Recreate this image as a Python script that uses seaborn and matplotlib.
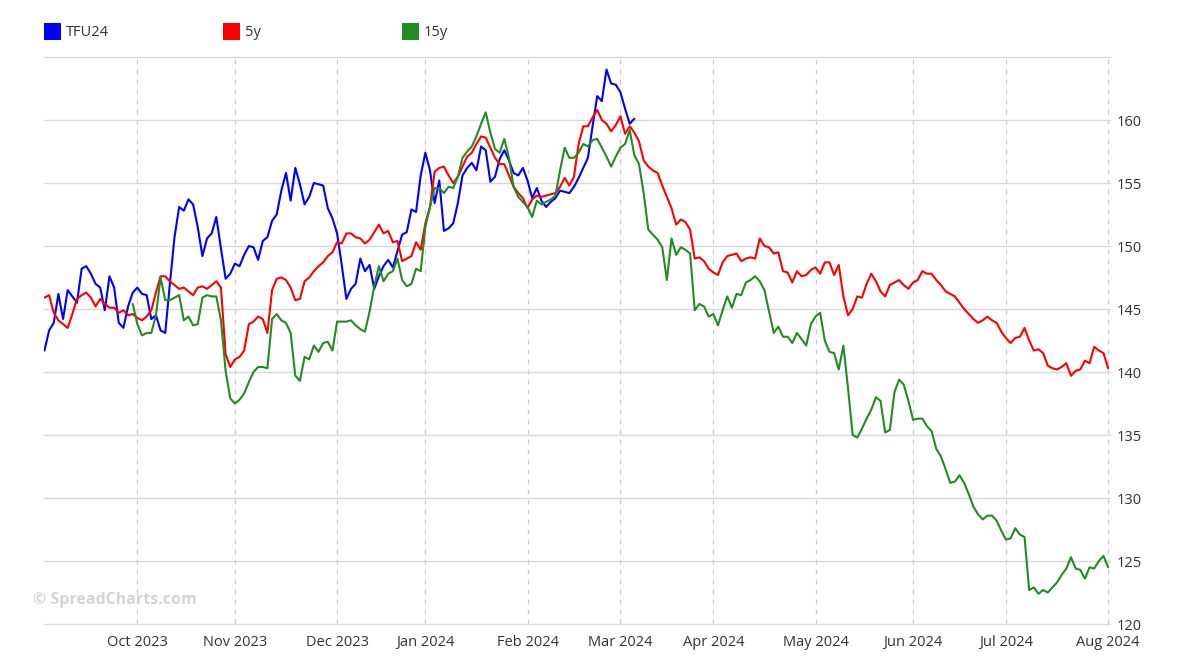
import numpy as np
import pandas as pd
import seaborn as sns
import matplotlib
matplotlib.use('Agg')
import matplotlib.pyplot as plt
from matplotlib.patches import Rectangle

# trading calendar of the chart (weekdays with no quote removed)
start_date, end_date = '2023-09-01', '2024-08-01'
missing_days = ['2023-09-04', '2023-10-09', '2023-12-25', '2023-12-26', '2024-01-01',
                '2024-02-19', '2024-03-29', '2024-05-27', '2024-05-28', '2024-07-04']

series_names = ['TFU24', '5y', '15y']
series_colors = ['#0000ff', '#ff0000', '#228b22']

# TFU24, from 2023-09-01 (128 sessions)
tfu24 = [141.7, 143.3, 143.9, 146.2, 144.2, 146.5, 146.0, 145.5, 148.2, 148.4,
         147.8, 147.0, 146.7, 144.9, 147.6, 146.7, 143.9, 143.5, 145.2, 146.3,
         146.7, 146.2, 146.1, 144.2, 144.5, 143.3, 143.1, 147.0, 150.7, 153.1,
         152.8, 153.7, 153.3, 151.5, 149.2, 150.6, 151.0, 152.3, 149.8, 147.4,
         147.8, 148.6, 148.4, 149.3, 150.0, 149.9, 148.9, 150.4, 150.7, 152.0,
         152.5, 154.4, 155.8, 153.6, 156.2, 154.9, 153.3, 153.9, 155.0, 154.9,
         154.8, 153.0, 152.2, 151.0, 148.5, 145.8, 146.6, 147.0, 149.0, 148.0,
         148.5, 146.6, 147.6, 148.4, 148.9, 148.3, 149.6, 150.9, 151.1, 152.9,
         152.7, 155.6, 157.4, 156.0, 153.4, 155.2, 151.2, 151.4, 151.8, 153.4,
         155.6, 156.2, 156.6, 156.0, 157.9, 157.6, 155.1, 155.5, 156.9, 157.6,
         156.8, 155.8, 155.6, 156.2, 155.2, 153.8, 154.6, 153.6, 153.1, 153.5,
         153.8, 154.4, 154.3, 154.2, 154.7, 155.4, 156.2, 157.0, 159.5, 161.9,
         161.5, 164.0, 162.9, 162.8, 162.2, 160.9, 159.7, 160.1]
tfu24_start = '2023-09-01'

# 5y, from 2023-09-01 to 2024-08-01
y5 = [145.9, 146.1, 144.7, 144.1, 143.8, 143.5, 144.6, 145.8, 146.1, 146.3,
      145.9, 145.2, 145.8, 145.4, 145.1, 145.1, 144.7, 144.9, 144.5, 144.6,
      144.3, 144.1, 144.4, 144.9, 146.3, 147.6, 147.6, 147.2, 146.9, 146.6,
      146.7, 146.4, 146.1, 146.7, 146.8, 146.6, 146.9, 147.2, 146.7, 141.4,
      140.4, 141.0, 141.2, 141.7, 143.8, 144.0, 144.4, 144.2, 143.1, 146.5,
      147.4, 147.5, 147.3, 146.7, 145.7, 145.8, 147.2, 147.5, 148.0, 148.4,
      148.7, 149.2, 149.5, 150.3, 150.2, 151.0, 151.0, 150.7, 150.6, 150.2,
      150.5, 151.1, 151.7, 151.0, 151.2, 150.3, 150.4, 148.8, 149.0, 149.2,
      150.3, 149.7, 151.8, 153.1, 155.9, 156.2, 156.3, 155.6, 155.0, 155.5,
      156.3, 157.1, 157.4, 158.1, 158.7, 158.6, 157.8, 157.0, 156.5, 156.5,
      155.6, 154.7, 154.2, 153.8, 153.0, 153.7, 154.0, 153.9, 154.0, 154.1,
      154.2, 154.7, 155.4, 154.8, 155.5, 158.1, 159.5, 159.5, 160.2, 160.8,
      160.0, 159.7, 159.1, 159.6, 160.3, 158.9, 159.5, 159.0, 158.3, 156.8,
      156.3, 156.0, 155.8, 154.8, 153.9, 153.0, 151.7, 152.1, 151.9, 151.3,
      149.0, 149.1, 148.8, 148.2, 147.9, 147.7, 148.7, 149.2, 149.3, 149.4,
      148.8, 149.0, 149.1, 149.0, 150.6, 150.0, 149.9, 149.4, 149.5, 148.0,
      147.9, 147.1, 148.0, 147.6, 147.7, 148.1, 148.3, 147.8, 148.7, 148.7,
      147.7, 148.5, 146.0, 144.5, 145.0, 146.0, 145.9, 147.0, 147.8, 147.2,
      146.4, 146.0, 146.9, 147.1, 147.3, 146.9, 146.6, 147.1, 147.3, 148.0,
      147.8, 147.8, 147.3, 146.9, 146.4, 146.2, 146.0, 145.5, 145.0, 144.6,
      144.2, 143.9, 144.1, 144.4, 144.1, 143.9, 143.2, 142.7, 142.3, 142.7,
      142.8, 143.5, 142.5, 141.7, 141.8, 141.5, 140.5, 140.3, 140.2, 140.4,
      140.7, 139.7, 140.1, 140.2, 140.9, 140.7, 142.0, 141.7, 141.5, 140.3]
y5_start = '2023-09-01'

# 15y, from 2023-09-29 to 2024-08-01
y15 = [145.4, 143.8, 142.9, 143.1, 143.1, 144.5, 147.5, 145.7, 145.7, 145.9, 146.1,
       144.1, 144.4, 143.7, 143.8, 145.9, 146.1, 146.0, 146.0, 144.1, 140.1,
       137.9, 137.5, 137.8, 138.3, 139.2, 140.0, 140.4, 140.4, 140.3, 144.2,
       144.6, 144.1, 143.9, 143.1, 139.7, 139.3, 141.2, 141.0, 142.1, 141.6,
       142.3, 142.4, 141.7, 144.0, 144.0, 144.0, 144.1, 143.7, 143.4, 143.2,
       144.8, 146.8, 148.4, 147.2, 147.8, 148.0, 149.0, 147.3, 146.8, 147.0,
       148.2, 148.0, 151.5, 153.1, 154.6, 154.6, 154.2, 154.7, 154.6, 155.5,
       157.0, 157.5, 157.9, 158.7, 159.7, 160.6, 159.0, 157.7, 157.4, 158.5,
       157.0, 154.7, 153.9, 153.5, 153.1, 152.3, 153.6, 153.3, 153.5, 153.7,
       154.0, 156.0, 157.8, 157.0, 157.0, 157.4, 158.1, 157.9, 158.4, 158.5,
       157.8, 157.1, 156.3, 157.1, 157.8, 158.1, 159.2, 157.2, 156.5, 154.2,
       151.3, 150.9, 150.5, 149.9, 147.3, 150.6, 149.3, 149.9, 149.7, 149.4,
       144.9, 145.4, 145.2, 144.4, 144.6, 143.7, 144.9, 146.0, 145.1, 146.2,
       146.1, 147.1, 147.3, 147.6, 147.2, 146.5, 144.8, 143.1, 143.6, 142.8,
       142.8, 142.3, 143.1, 142.6, 142.1, 143.8, 144.4, 144.7, 142.5, 141.6,
       141.5, 140.2, 142.1, 138.7, 135.0, 134.8, 135.5, 136.3, 137.0, 138.0,
       137.7, 135.2, 135.4, 138.4, 139.4, 139.0, 137.7, 136.2, 136.3, 136.3,
       135.7, 135.3, 133.9, 133.3, 132.3, 131.2, 131.3, 131.8, 131.2, 130.3,
       129.3, 128.7, 128.3, 128.6, 128.6, 128.2, 127.4, 126.7, 126.8, 127.6,
       127.1, 126.9, 122.7, 122.9, 122.4, 122.7, 122.5, 122.9, 123.3, 123.9,
       124.4, 125.3, 124.4, 124.3, 123.6, 124.5, 124.4, 125.0, 125.4, 124.5]
y15_start = '2023-09-29'

month_labels = ['Oct 2023', 'Nov 2023', 'Dec 2023', 'Jan 2024', 'Feb 2024', 'Mar 2024',
                'Apr 2024', 'May 2024', 'Jun 2024', 'Jul 2024', 'Aug 2024']
y_ticks = [120, 125, 130, 135, 140, 145, 150, 155, 160, 165]

# session axis: one slot per trading day
dates = pd.bdate_range(start_date, end_date)
dates = dates[~dates.isin(pd.to_datetime(missing_days))]
pos_of = {d: i for i, d in enumerate(dates)}

frames = []
for name, vals, first in [('TFU24', tfu24, tfu24_start), ('5y', y5, y5_start), ('15y', y15, y15_start)]:
    p0 = pos_of[pd.Timestamp(first)]
    assert p0 + len(vals) <= len(dates), name
    frames.append(pd.DataFrame({'pos': np.arange(p0, p0 + len(vals)),
                                'value': vals, 'series': name}))
df = pd.concat(frames, ignore_index=True)

# first session of each month (Oct .. Aug)
month_start = pd.Series(np.arange(len(dates)), index=dates).groupby(dates.to_period('M')).first()
month_pos = month_start.values[1:]

sns.set_style('white')
plt.rcParams['font.family'] = ['Open Sans', 'DejaVu Sans']

fig = plt.figure(figsize=(12, 6.64), dpi=100)
ax = fig.add_axes([44 / 1200, 40 / 664, 1066 / 1200, 567 / 664])

sns.lineplot(data=df, x='pos', y='value', hue='series', hue_order=series_names,
             palette=dict(zip(series_names, series_colors)), linewidth=1.5,
             legend=False, ax=ax)

ax.set_xlim(-0.1, 229.4)
ax.set_ylim(120, 165)
ax.set_xlabel('')
ax.set_ylabel('')

ax.set_xticks(month_pos)
ax.set_xticklabels(month_labels)
ax.yaxis.tick_right()
ax.set_yticks(y_ticks)
ax.set_yticklabels([str(v) if v < 165 else '' for v in y_ticks])

ax.grid(axis='y', color='#d9d9d9', linewidth=1.0, linestyle='-')
ax.grid(axis='x', color='#cccccc', linewidth=0.9, linestyle=(0, (4, 4)))
ax.set_axisbelow(True)
# keep the 120 and 165 lines whole at the plot edges
for gl in ax.get_ygridlines():
    gl.set_clip_on(False)
for s in ax.spines.values():
    s.set_visible(False)

ax.tick_params(axis='y', length=0, labelsize=10.5, labelcolor='#333333', pad=5)
ax.tick_params(axis='x', length=0, labelsize=10.5, labelcolor='#333333', pad=8)

# legend across the top
legend_x = [44, 223, 402]
for name, color, lx in zip(series_names, series_colors, legend_x):
    fig.patches.append(Rectangle((lx / 1200, 1 - 40 / 664), 17 / 1200, 17 / 664,
                                 transform=fig.transFigure, facecolor=color, edgecolor='none'))
    fig.text((lx + 22) / 1200, 1 - 32 / 664, name, fontsize=10.5, color='#333333', va='center')

fig.text(33 / 1200, 1 - 600 / 664, '\u00a9 SpreadCharts.com', fontsize=11.5, fontweight='bold',
         color='#d4d4d4', va='center')

fig.savefig('out.png', dpi=100)
